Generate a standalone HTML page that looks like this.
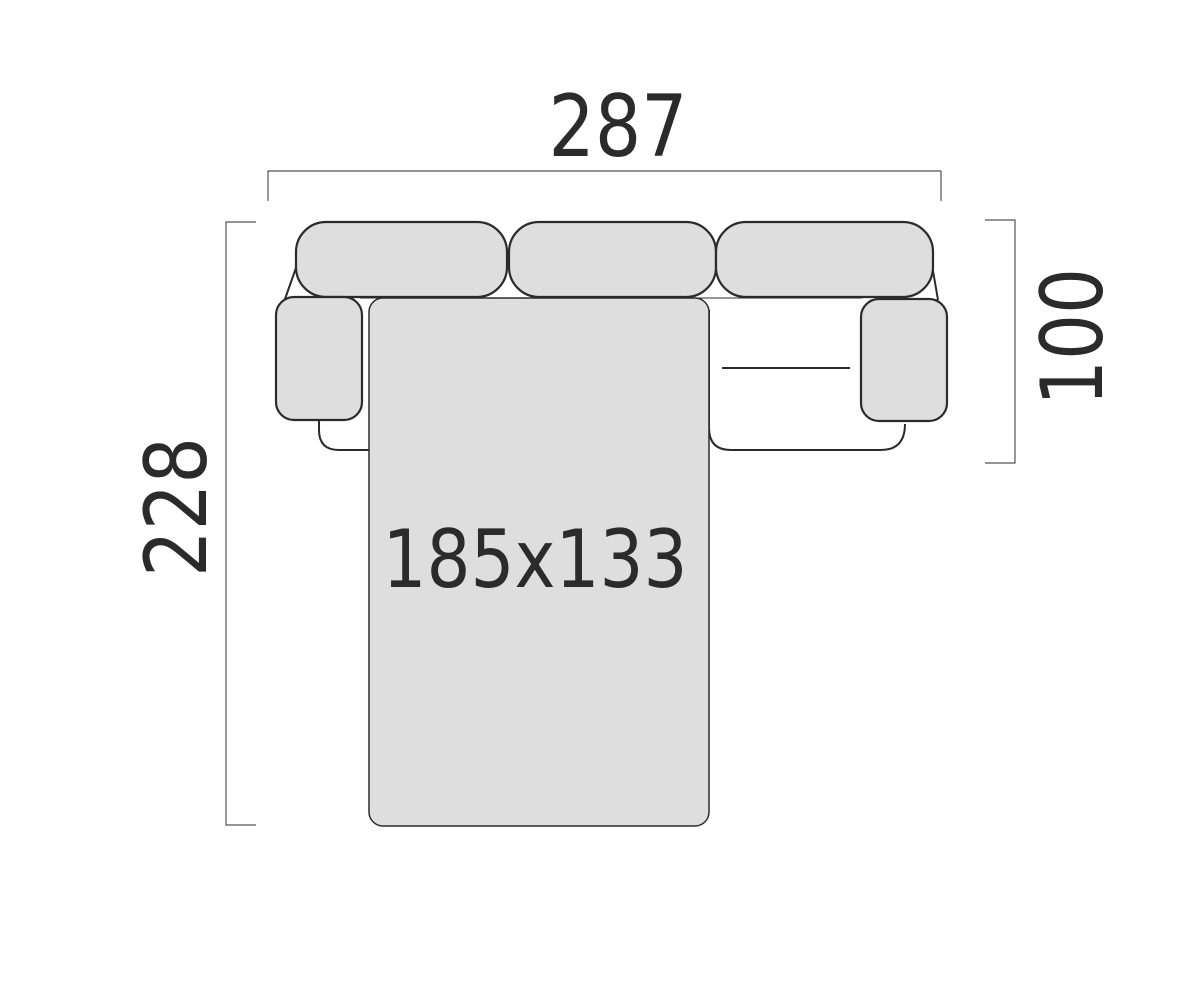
<!DOCTYPE html>
<html><head><meta charset="utf-8"><style>html,body{margin:0;padding:0;background:#fff}</style></head>
<body>
<svg width="1184" height="992" viewBox="0 0 1184 992" xmlns="http://www.w3.org/2000/svg">
<g fill="none" stroke="#555" stroke-width="1.2">
<path d="M268 201 V171 H941 V201"/>
<path d="M256 222 H226 V825 H256"/>
<path d="M985 220 H1015 V463 H985"/>
</g>
<g stroke="#2b2b2b" stroke-width="2" fill="none">
<path d="M297 265 L285 299"/>
<path d="M932 265 L938 300"/>
<path d="M319 420 V430 Q319 450 339 450 H369"/>
<path d="M709 310 V428 Q709 450 731 450 H881 Q905 450 905 424"/>
<line x1="722" y1="368" x2="850" y2="368"/>
<line x1="360" y1="298" x2="862" y2="298" stroke-width="1"/>
</g>
<g fill="#dedede" stroke="#2b2b2b" stroke-width="2.2">
<rect x="296" y="222" width="211" height="75" rx="30"/>
<rect x="509" y="222" width="207" height="75" rx="30"/>
<rect x="716" y="222" width="217" height="75" rx="30"/>
<rect x="276" y="297" width="86" height="123" rx="18"/>
<rect x="861" y="299" width="86" height="122" rx="18"/>
<rect x="369" y="298" width="340" height="528" rx="14" stroke-width="1.5"/>
</g>
<g fill="#2b2b2b" font-family="'DejaVu Sans','Liberation Sans',sans-serif" text-anchor="middle">
<text x="618" y="156" font-size="86" textLength="139" lengthAdjust="spacingAndGlyphs">287</text>
<text x="535" y="587" font-size="80" textLength="305" lengthAdjust="spacingAndGlyphs">185x133</text>
<text transform="translate(206,507) rotate(-90)" font-size="86" textLength="140" lengthAdjust="spacingAndGlyphs">228</text>
<text transform="translate(1102,337) rotate(-90)" font-size="86" textLength="138" lengthAdjust="spacingAndGlyphs">100</text>
</g>
</svg>
</body></html>
